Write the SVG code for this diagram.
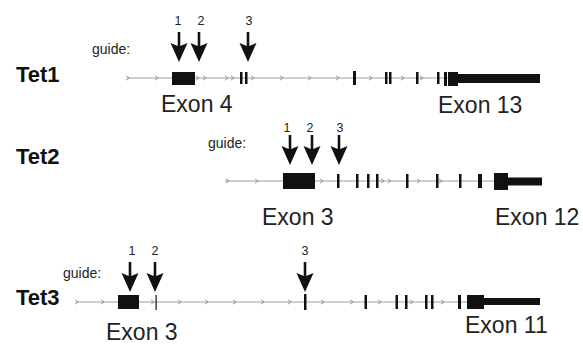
<svg xmlns="http://www.w3.org/2000/svg" xmlns:xlink="http://www.w3.org/1999/xlink" width="583" height="345" viewBox="0 0 583 345">
<style>
.bg{fill:#ffffff}
.gene{stroke:#9a9db0;stroke-width:1}
.chev{fill:none;stroke:#8a8a95;stroke-width:0.9}
.ex{fill:#111111}
.shaft{stroke:#111111;stroke-width:2.6}
.head{fill:#111111}
.tname{font-family:"Liberation Sans",Arial,sans-serif;font-weight:bold;font-size:22px;fill:#111}
.exl{font-family:"Liberation Sans",Arial,sans-serif;font-size:23px;fill:#222}
.guide{font-family:"Liberation Sans",Arial,sans-serif;font-size:14px;fill:#222}
.num{font-family:"Liberation Sans",Arial,sans-serif;font-size:12.5px;fill:#222;text-anchor:middle}
</style>
<defs>
<path id="chev" class="chev" d="M-2,-2.2 L1,0 L-2,2.2"/>
<g id="arrow">
<line class="shaft" x1="0" y1="0" x2="0" y2="20"/>
<path class="head" d="M-8.5,11 L0,14.5 L8.5,11 L0,30 Z"/>
</g>
</defs>
<rect class="bg" x="0" y="0" width="583" height="345"/>

<g id="tet1">
<text class="tname" x="16" y="82">Tet1</text>
<text class="guide" x="92" y="54">guide:</text>
<line class="gene" x1="127" y1="78" x2="448" y2="78"/>
<g>
<use xlink:href="#chev" x="128" y="78"/><use xlink:href="#chev" x="157" y="78"/>
<use xlink:href="#chev" x="198" y="78"/><use xlink:href="#chev" x="205" y="78"/>
<use xlink:href="#chev" x="227" y="78"/><use xlink:href="#chev" x="233" y="78"/>
<use xlink:href="#chev" x="253" y="78"/><use xlink:href="#chev" x="282" y="78"/>
<use xlink:href="#chev" x="310" y="78"/><use xlink:href="#chev" x="338" y="78"/>
<use xlink:href="#chev" x="371" y="78"/><use xlink:href="#chev" x="403" y="78"/>
<use xlink:href="#chev" x="422" y="78"/>
</g>
<rect class="ex" x="172" y="72" width="23" height="13"/>
<rect class="ex" x="240" y="72" width="2.5" height="12"/>
<rect class="ex" x="245" y="72" width="2.5" height="12"/>
<rect class="ex" x="353" y="71" width="3" height="14"/>
<rect class="ex" x="385" y="72" width="2.5" height="12"/>
<rect class="ex" x="389" y="72" width="2.5" height="12"/>
<rect class="ex" x="416" y="72" width="2.5" height="12"/>
<rect class="ex" x="437" y="72" width="2.5" height="12"/>
<rect class="ex" x="444" y="72" width="3" height="14"/>
<rect class="ex" x="448" y="72" width="10" height="14"/>
<rect class="ex" x="458" y="74" width="82" height="9"/>
<text class="num" x="178" y="25">1</text>
<text class="num" x="201" y="25">2</text>
<text class="num" x="249" y="25">3</text>
<use xlink:href="#arrow" x="179" y="32"/>
<use xlink:href="#arrow" x="199" y="32"/>
<use xlink:href="#arrow" x="248" y="32"/>
<text class="exl" x="161" y="112">Exon 4</text>
<text class="exl" x="438" y="113">Exon 13</text>
</g>

<g id="tet2">
<text class="tname" x="16" y="164">Tet2</text>
<text class="guide" x="208" y="148">guide:</text>
<line class="gene" x1="225" y1="181" x2="494" y2="181"/>
<g>
<use xlink:href="#chev" x="228" y="181"/><use xlink:href="#chev" x="257" y="181"/>
<use xlink:href="#chev" x="322" y="181"/><use xlink:href="#chev" x="383" y="181"/>
<use xlink:href="#chev" x="390" y="181"/><use xlink:href="#chev" x="419" y="181"/>
<use xlink:href="#chev" x="441" y="181"/>
</g>
<rect class="ex" x="283" y="173" width="32" height="16"/>
<rect class="ex" x="337" y="174" width="2.5" height="14"/>
<rect class="ex" x="356" y="174" width="2.5" height="14"/>
<rect class="ex" x="367" y="174" width="2.5" height="14"/>
<rect class="ex" x="376" y="174" width="2.5" height="14"/>
<rect class="ex" x="406" y="174" width="2.5" height="14"/>
<rect class="ex" x="436" y="174" width="2.5" height="14"/>
<rect class="ex" x="459" y="174" width="2.5" height="14"/>
<rect class="ex" x="478" y="174" width="4" height="14"/>
<rect class="ex" x="494" y="173" width="14" height="17"/>
<rect class="ex" x="508" y="177.5" width="34" height="8"/>
<text class="num" x="287" y="132">1</text>
<text class="num" x="310" y="132">2</text>
<text class="num" x="340" y="132">3</text>
<use xlink:href="#arrow" x="290" y="135"/>
<use xlink:href="#arrow" x="312" y="135"/>
<use xlink:href="#arrow" x="339" y="135"/>
<text class="exl" x="262" y="225">Exon 3</text>
<text class="exl" x="495" y="225">Exon 12</text>
</g>

<g id="tet3">
<text class="tname" x="16" y="305">Tet3</text>
<text class="guide" x="63" y="278">guide:</text>
<line class="gene" x1="76" y1="302" x2="467" y2="302"/>
<g>
<use xlink:href="#chev" x="77" y="302"/><use xlink:href="#chev" x="103" y="302"/>
<use xlink:href="#chev" x="153" y="302"/><use xlink:href="#chev" x="180" y="302"/>
<use xlink:href="#chev" x="207" y="302"/><use xlink:href="#chev" x="235" y="302"/>
<use xlink:href="#chev" x="263" y="302"/><use xlink:href="#chev" x="290" y="302"/>
<use xlink:href="#chev" x="323" y="302"/><use xlink:href="#chev" x="352" y="302"/>
<use xlink:href="#chev" x="380" y="302"/><use xlink:href="#chev" x="412" y="302"/>
<use xlink:href="#chev" x="443" y="302"/>
</g>
<rect class="ex" x="118" y="295" width="21" height="14"/>
<rect class="ex" x="155.5" y="295" width="1.2" height="15"/>
<rect class="ex" x="304" y="294" width="2.5" height="16"/>
<rect class="ex" x="364.5" y="295" width="2.5" height="14"/>
<rect class="ex" x="395.5" y="295" width="2.5" height="14"/>
<rect class="ex" x="405" y="295" width="2.5" height="14"/>
<rect class="ex" x="425" y="295" width="2.5" height="14"/>
<rect class="ex" x="431" y="295" width="2.5" height="14"/>
<rect class="ex" x="458" y="295" width="3" height="14"/>
<rect class="ex" x="467" y="295" width="17" height="14"/>
<rect class="ex" x="484" y="298" width="56" height="7"/>
<text class="num" x="132" y="255">1</text>
<text class="num" x="155" y="255">2</text>
<text class="num" x="305" y="255">3</text>
<use xlink:href="#arrow" x="130" y="262"/>
<use xlink:href="#arrow" x="155" y="262"/>
<use xlink:href="#arrow" x="305" y="262"/>
<text class="exl" x="106" y="340">Exon 3</text>
<text class="exl" x="465" y="333">Exon 11</text>
</g>
</svg>
